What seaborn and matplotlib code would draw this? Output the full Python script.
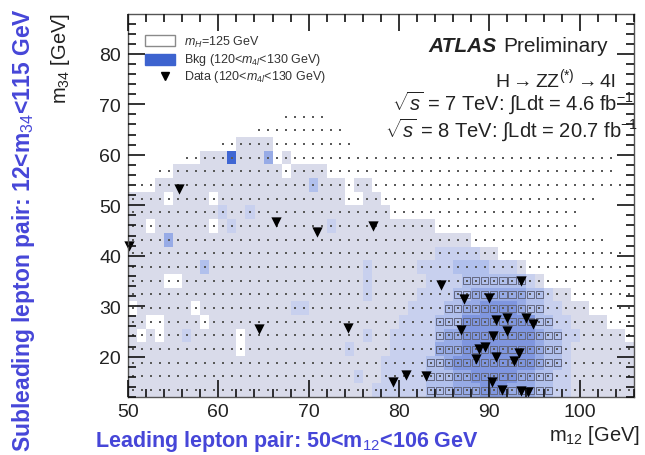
import numpy as np
import pandas as pd
import matplotlib
matplotlib.use("Agg")
import matplotlib.pyplot as plt
import seaborn as sns
from matplotlib.colors import ListedColormap
from matplotlib.patches import Rectangle
from matplotlib.lines import Line2D
from matplotlib.ticker import MultipleLocator

# ---------------- data ----------------
# binning (m12: 1 GeV bins 50-106, m34: 38 bins 12-115, shown up to ~88)
m12_edges = np.arange(50.0, 107.0, 1.0)
m34_edges = np.linspace(12.0, 115.0, 39)[:29]

# background map, top row first (m34 high -> low)
# ' ' empty, '.' white cell (signal only), a..f background level (light -> dark blue)
bkg_map = [
    " " * 56,
    " " * 56,
    " " * 56,
    " " * 56,
    " " * 56,
    " " * 56,
    " " * 56,
    " " * 17 + "." * 5 + " " * 34,
    " " * 14 + "." * 10 + " " * 32,
    " " * 10 + ".." + "aaaa" + "." * 9 + " " * 31,
    " " * 6 + ".." + "aaa" + "f" + "aaa" + "d" + "." + "a" + "." * 36 + "  ",
    " " * 3 + ".." + "a" * 12 + "." + "aaaa" + "." * 32 + "  ",
    " " + ".." + "a" * 17 + "c" + "aaa" + "." + "aa" + "." * 28 + " ",
    "aaaa" + "." + "aaaa" + "." + "a" * 14 + ".." + "aa" + "." * 24 + "    ",
    "a" * 10 + "b" + "aa" + "b" + "a" * 15 + "." * 21 + " " * 6,
    "aa" + "." + "a" * 6 + "." + "a" + "b" + "a" * 10 + "b" + "a" * 11 + "." * 16 + " " * 6,
    "aaaa" + "d" + "a" * 21 + "a" + "a" * 11 + "." * 15 + "   ",
    "a" * 26 + "a" + "a" * 7 + "bbbbb" + "aa" + "." * 14 + " ",
    "a" * 8 + "c" + "a" * 17 + "b" + "a" * 5 + "bb" + "bbccccbbb" + "a" + "." * 11 + " ",
    "aaaa" + ".." + "a" * 20 + "b" + "a" * 6 + "bbbb" + "ccccccc" + "b" + "a" + "." * 9 + " ",
    "a" * 26 + "b" + "a" * 5 + "bbbb" + "cc" + "dddddd" + "cc" + "b" + "aa" + "." * 7,
    "." + "a" * 6 + "." + "a" * 10 + "bb" + "a" * 11 + "bbbb" + "cc" + "ddeeeed" + "cc" + "bb" + "aaa" + "." * 5,
    "aa" + ".." + "aaaa" + "." + "a" * 21 + "bbbb" + "ccc" + "eeeeeeee" + "cc" + "bb" + "aaaa" + "...",
    "a.a.aa" + "b" + "a" * 5 + "." + "a" * 13 + "b" + "aa" + "bbbbb" + "cdd" + "eeeeeeee" + "d" + "cc" + "bb" + "aaaaa" + ".",
    "a" * 12 + "." + "a" * 11 + "b" + "a" * 4 + "bbbbb" + "ddd" + "eeeeeeee" + "d" + "cc" + "b" + "a" * 7,
    "a" * 28 + "bbbbb" + "ccd" + "eeeeeeeee" + "d" + "cc" + "b" + "a" * 7,
    "a" * 25 + "b" + "aa" + "bbbbb" + "ccc" + "ddeeeeedd" + "cc" + "bb" + "a" * 7,
    "a" * 27 + "bbbbbb" + "ccc" + "dddeeeddd" + "cc" + "bb" + "a" * 7,
]

# observed data events (120 < m4l < 130 GeV)
data_m12 = [55.6, 50.1, 66.4, 70.9, 77.1, 64.5, 74.4, 84.6, 93.5, 87.2, 89.9,
            90.7, 91.9, 94.1, 94.8, 86.8, 91.9, 90.4, 89.5, 88.8, 88.5, 90.7,
            93.3, 92.7, 79.3, 80.8, 83.0, 90.3, 91.4, 93.5, 94.3]
data_m34 = [53.2, 42.0, 46.6, 44.6, 45.8, 25.5, 25.7, 34.2, 35.0, 31.4, 31.7,
            27.2, 27.6, 27.6, 26.5, 25.3, 25.1, 24.1, 22.0, 21.6, 19.5, 20.0,
            20.7, 19.2, 15.0, 16.4, 16.1, 14.9, 13.4, 13.2, 13.0]

legend_labels = [r"$m_H$=125 GeV",
                 r"Bkg (120<$m_{4l}$<130 GeV)",
                 r"Data (120<$m_{4l}$<130 GeV)"]

# ---------------- style ----------------
sns.set_theme(style="ticks")
plt.rcParams["font.family"] = ["Liberation Sans", "DejaVu Sans"]
plt.rcParams["mathtext.fontset"] = "custom"
plt.rcParams["mathtext.rm"] = "Liberation Sans"
plt.rcParams["mathtext.it"] = "Liberation Sans:italic"
plt.rcParams["mathtext.bf"] = "Liberation Sans:bold"
plt.rcParams.update({
    "axes.axisbelow": False,
    "xtick.direction": "in", "ytick.direction": "in",
    "xtick.major.size": 11, "ytick.major.size": 11,
    "xtick.minor.size": 5.5, "ytick.minor.size": 5.5,
})

level_of = {" ": 0, ".": 0, "a": 1, "b": 2, "c": 3, "d": 4, "e": 5, "f": 6}
cmap = ListedColormap(["#ffffff", "#d9dbea", "#c8d0ee", "#b1c0ec",
                       "#97abe6", "#7f96df", "#3f66d3"])

rows = [r.ljust(56)[:56] for r in bkg_map]
Z = np.array([[level_of[c] for c in r] for r in rows], dtype=float)

W, H = 645, 456
fig = plt.figure(figsize=(W / 100, H / 100), dpi=100)
pos = [128 / W, 1 - 398 / H, (634 - 128) / W, (398 - 15) / H]

# background histogram (seaborn heatmap, cell grid)
axh = fig.add_axes(pos, zorder=0)
sns.heatmap(Z, ax=axh, cmap=cmap, vmin=-0.5, vmax=6.5, cbar=False,
            xticklabels=False, yticklabels=False, linewidths=0)
axh.set_axis_off()

# marks in physical units
ax = fig.add_axes(pos, zorder=2)
ax.set_facecolor("none")

xc = (m12_edges[:-1] + m12_edges[1:]) / 2
yc = (m34_edges[:-1] + m34_edges[1:]) / 2
nrow = len(rows)
sx, sy, bx, by = [], [], [], []
for i, r in enumerate(rows):
    irow = nrow - 1 - i
    for j, ch in enumerate(r):
        if ch != " ":
            sx.append(xc[j]); sy.append(yc[irow])
        if ch in "cdef" and irow <= 8:
            bx.append(xc[j]); by.append(yc[irow])
sig = pd.DataFrame({"m12": sx, "m34": sy})
big = pd.DataFrame({"m12": bx, "m34": by})
sns.scatterplot(data=big, x="m12", y="m34", marker="s", s=26,
                facecolors="none", edgecolor="#646880", linewidth=0.7, ax=ax,
                legend=False)
sns.scatterplot(data=sig, x="m12", y="m34", marker="s", s=4,
                color="#5a5a5a", linewidth=0, ax=ax, legend=False)
dat = pd.DataFrame({"m12": data_m12, "m34": data_m34})
sns.scatterplot(data=dat, x="m12", y="m34", marker="v", s=55, color="black",
                linewidth=0, ax=ax, legend=False, zorder=5, clip_on=False)
ax.set_xlim(m12_edges[0], m12_edges[-1])
ax.set_ylim(m34_edges[0], m34_edges[-1])
ax.set_axis_off()

# frame, ticks and tick labels on a clean top axes
axt = fig.add_axes(pos, zorder=3)
axt.set_facecolor("none")
axt.set_xlim(m12_edges[0], m12_edges[-1])
axt.set_ylim(m34_edges[0], m34_edges[-1])
axt.xaxis.set_major_locator(MultipleLocator(10))
axt.xaxis.set_minor_locator(MultipleLocator(2))
axt.yaxis.set_major_locator(MultipleLocator(10))
axt.yaxis.set_minor_locator(MultipleLocator(2))
axt.tick_params(which="both", direction="in", bottom=True, left=True,
                top=True, right=True, color="#111111", width=1.2)
axt.tick_params(which="major", length=12, labelsize=14, labelcolor="#222222")
axt.tick_params(which="minor", length=6)
axt.tick_params(axis="x", pad=4)
axt.tick_params(axis="y", pad=5)
for sp in axt.spines.values():
    sp.set_visible(True)
    sp.set_color("#555555")
    sp.set_linewidth(1.0)


def P(x, y):
    return (x / W, 1 - y / H)


blue = "#4646d8"
fig.text(*P(24, 230), r"Subleading lepton pair: 12<m$_{34}$<115 GeV",
         rotation=90, ha="center", va="center", color=blue,
         fontsize=16.5, fontweight="bold")
fig.text(*P(95, 442), r"Leading lepton pair: 50<m$_{12}$<106 GeV",
         ha="left", va="center", color=blue, fontsize=15.5, fontweight="bold")
fig.text(*P(640, 436), r"m$_{12}$ [GeV]", ha="right", va="center",
         fontsize=14.5, color="#222222")
fig.text(*P(60, 13), r"m$_{34}$ [GeV]", rotation=90, ha="center", va="top",
         fontsize=14.5, color="#222222")

# ATLAS labels
fig.text(*P(428, 46), "ATLAS", ha="left", va="center", fontsize=15,
         fontweight="bold", fontstyle="italic", color="#222222")
fig.text(*P(503, 46), "Preliminary", ha="left", va="center", fontsize=15,
         color="#222222")
fig.text(*P(616, 79), r"H$\rightarrow$ZZ$^{(*)}$$\rightarrow$4l", ha="right",
         va="center", fontsize=14, color="#222222")
fig.text(*P(634, 103), r"$\sqrt{s}$ = 7 TeV: $\int$Ldt = 4.6 fb$^{-1}$",
         ha="right", va="center", fontsize=14.5, color="#222222")
fig.text(*P(638, 130), r"$\sqrt{s}$ = 8 TeV: $\int$Ldt = 20.7 fb$^{-1}$",
         ha="right", va="center", fontsize=14.5, color="#222222")

# legend
fig.add_artist(Rectangle(P(145, 47), 30 / W, 11 / H, transform=fig.transFigure,
                         facecolor="white", edgecolor="#8a8a8a", lw=1))
fig.add_artist(Rectangle(P(145, 66), 30 / W, 11 / H, transform=fig.transFigure,
                         facecolor="#3d63cf", edgecolor="#3d63cf", lw=1))
tx, ty = P(165, 77)
fig.add_artist(Line2D([tx], [ty], marker="v", markersize=6, color="black",
                      linestyle="none", transform=fig.transFigure))
for lbl, yy in zip(legend_labels, [42, 60, 77]):
    fig.text(*P(184, yy), lbl, ha="left", va="center", fontsize=9,
             color="#333333")

fig.savefig("out.png", dpi=100)
